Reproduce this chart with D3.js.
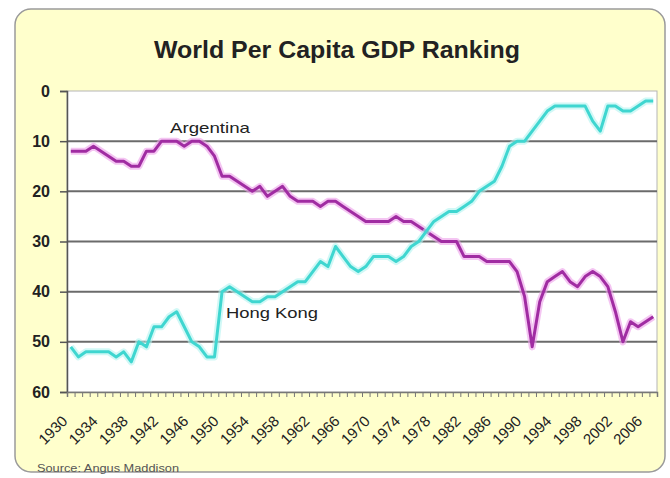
<!DOCTYPE html>
<html><head><meta charset="utf-8">
<script src="https://cdn.jsdelivr.net/npm/d3@7"></script>
<style>body{margin:0;background:#fff}svg{display:block}</style>
</head><body><svg id="c" width="670" height="478"></svg>
<script>
const years = d3.range(1930, 2008);
const argentina = [12,12,12,11,12,13,14,14,15,15, 12,12,10,10,10,11,10,10,11,13,
  17,17,18,19,20,19,21,20,19,21, 22,22,22,23,22,22,23,24,25,26,
  26,26,26,25,26,26,27,28,29,30, 30,30,33,33,33,34,34,34,34,36,
  41,51,42,38,37,36,38,39,37,36, 37,39,44,50,46,47,46,45];
const hongKong = [51,53,52,52,52,52,53,52,54,50, 51,47,47,45,44,47,50,51,53,53,
  40,39,40,41,42,42,41,41,40,39, 38,38,36,34,35,31,33,35,36,35,
  33,33,33,34,33,31,30,28,26,25, 24,24,23,22,20,19,18,15,11,10,
  10,8,6,4,3,3,3,3,3,6, 8,3,3,4,4,3,2,2];
const yTicks = [0,10,20,30,40,50,60];
const xTickLabels = [1930,1934,1938,1942,1946,1950,1954,1958,1962,1966,1970,1974,1978,1982,1986,1990,1994,1998,2002,2006];
const seriesNames = ["Argentina", "Hong Kong"];
const title = "World Per Capita GDP Ranking";
const source = "Source: Angus Maddison";

const FONT = "'Liberation Sans', Arial, sans-serif";
const L = 67, R = 657, T = 91, B = 392;
const svg = d3.select("#c");

svg.append("rect").attr("x", 15).attr("y", 9).attr("width", 650).attr("height", 463)
  .attr("rx", 16).attr("fill", "#ffffcc").attr("stroke", "#9a9a9a").attr("stroke-width", 1.5);

svg.append("text").attr("x", 337).attr("y", 58).attr("text-anchor", "middle")
  .attr("font-family", FONT).attr("font-weight", "bold").attr("font-size", 23)
  .attr("fill", "#222").attr("textLength", 366).attr("lengthAdjust", "spacingAndGlyphs").text(title);

const x = d3.scalePoint().domain(years).range([L, R]).padding(0.5);
const xb = d3.scaleLinear().domain([1929.5, 2007.5]).range([L, R]);
const y = d3.scaleLinear().domain([0, 60]).range([T, B]);

svg.append("rect").attr("x", L).attr("y", T).attr("width", R - L).attr("height", B - T)
  .attr("fill", "#fff").attr("stroke", "#b5b5b5").attr("stroke-width", 1);

// gridlines
svg.append("g").selectAll("line").data(yTicks.filter(d => d > 0 && d < 60)).join("line")
  .attr("x1", L).attr("x2", R).attr("y1", d => y(d)).attr("y2", d => y(d))
  .attr("stroke", "#6b6b6b").attr("stroke-width", 2);

// y axis
const ya = svg.append("g").attr("transform", `translate(${L},0)`)
  .call(d3.axisLeft(y).tickValues(yTicks).tickSize(7).tickPadding(10));
ya.select(".domain").attr("stroke", "#555").attr("stroke-width", 1.5);
ya.selectAll(".tick line").attr("stroke", "#555").attr("stroke-width", 1.5);
ya.selectAll("text").attr("font-family", FONT).attr("font-weight", "bold").attr("font-size", 16).attr("fill", "#222");

// x axis ticks at category boundaries
const xt = svg.append("g").attr("transform", `translate(0,${B})`)
  .call(d3.axisBottom(xb).tickValues(d3.range(1929.5, 2008, 1)).tickSize(5).tickFormat(""));
xt.select(".domain").attr("stroke", "#777").attr("stroke-width", 1.5);
xt.selectAll(".tick line").attr("stroke", "#777");

// x labels
const xl = svg.append("g").attr("transform", `translate(0,${B})`)
  .call(d3.axisBottom(x).tickValues(xTickLabels).tickSize(0).tickFormat(d3.format("d")));
xl.select(".domain").remove();
xl.selectAll("text").attr("y", 0).attr("dy", 0).attr("text-anchor", "end")
  .attr("transform", "translate(-3,30) rotate(-45)")
  .attr("font-family", FONT).attr("font-size", 15).attr("fill", "#222");

// lines
const line = d3.line().x((d, i) => x(years[i])).y(d => y(d));
const series = [
  {name: seriesNames[0], values: argentina, core: "#a02ca2", glow: "#ec9eea"},
  {name: seriesNames[1], values: hongKong, core: "#3fd6d0", glow: "#b3f3f0"}
];
series.forEach(s => {
  svg.append("path").attr("d", line(s.values)).attr("fill", "none")
    .attr("stroke", s.glow).attr("stroke-width", 7).attr("stroke-opacity", 0.6).attr("stroke-linejoin", "round");
  svg.append("path").attr("d", line(s.values)).attr("fill", "none")
    .attr("stroke", s.core).attr("stroke-width", 3).attr("stroke-linejoin", "round");
});

svg.append("text").attr("x", 170).attr("y", 133).attr("font-family", FONT).attr("font-size", 15)
  .attr("fill", "#222").attr("textLength", 80).attr("lengthAdjust", "spacingAndGlyphs").text(seriesNames[0]);
svg.append("text").attr("x", 226).attr("y", 318).attr("font-family", FONT).attr("font-size", 15)
  .attr("fill", "#222").attr("textLength", 92).attr("lengthAdjust", "spacingAndGlyphs").text(seriesNames[1]);

svg.append("text").attr("x", 37).attr("y", 472).attr("font-family", FONT).attr("font-size", 11.5)
  .attr("fill", "#555").attr("textLength", 142).attr("lengthAdjust", "spacingAndGlyphs").text(source);
</script></body></html>
